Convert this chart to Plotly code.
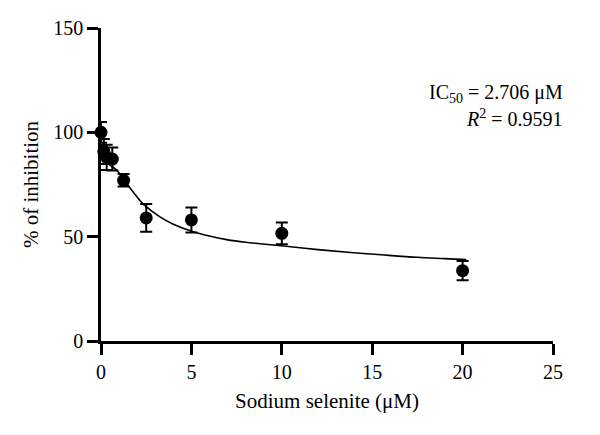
import plotly.graph_objects as go

conc = [0, 0.156, 0.3125, 0.625, 1.25, 2.5, 5, 10, 20]
inhibition = [100, 90.8, 88.0, 87.2, 77.0, 59.0, 58.0, 51.6, 33.7]
sem = [5.0, 6.0, 6.0, 5.5, 3.0, 6.6, 6.0, 5.2, 4.6]

# Fitted curve points
fit_x = [0.3, 0.5, 0.77, 1.0, 1.42, 2.0, 2.34, 3.26, 4.0, 5.1, 6.0, 6.95, 8.0, 8.8, 10.1, 12.0, 13.8, 15.5, 17.5, 19.0, 20.2]
fit_y = [85.5, 84.2, 82.6, 80.5, 75.5, 69.0, 65.6, 59.5, 56.0, 52.4, 50.3, 48.6, 47.3, 46.6, 45.5, 43.8, 42.4, 41.3, 40.1, 39.5, 39.0]

tick_x = [0, 5, 10, 15, 20, 25]
tick_y = [0, 50, 100, 150]

FONT = "Liberation Serif"

fig = go.Figure()
fig.add_trace(go.Scatter(
    x=fit_x, y=fit_y, mode="lines",
    line=dict(color="black", width=1.6, shape="spline"),
    showlegend=False, hoverinfo="skip", cliponaxis=False,
))
fig.add_trace(go.Scatter(
    x=conc, y=inhibition, mode="markers",
    marker=dict(color="black", size=13, symbol="circle"),
    error_y=dict(type="data", array=sem, visible=True, color="black", thickness=2, width=6),
    showlegend=False, cliponaxis=False,
))

fig.add_annotation(
    xref="paper", yref="paper", x=1.027, y=0.792, xanchor="right", yanchor="middle",
    text="IC<sub>50</sub> = 2.706 μM", showarrow=False,
    font=dict(family=FONT, size=20, color="black"),
)
fig.add_annotation(
    xref="paper", yref="paper", x=1.027, y=0.712, xanchor="right", yanchor="middle",
    text="<i>R</i><sup>2</sup> = 0.9591", showarrow=False,
    font=dict(family=FONT, size=20, color="black"),
)

axis_common = dict(
    showgrid=False, zeroline=False, showline=True, linecolor="black", linewidth=2.5,
    ticks="outside", ticklen=11, tickwidth=2.5, tickcolor="black",
    tickfont=dict(family=FONT, size=20, color="black"),
)
fig.update_xaxes(
    range=[0, 25], tickvals=tick_x, ticktext=[str(v) for v in tick_x],
    title=dict(text="Sodium selenite (μM)", font=dict(family=FONT, size=21, color="black"), standoff=12),
    **axis_common,
)
fig.update_yaxes(
    range=[0, 150], tickvals=tick_y, ticktext=[str(v) for v in tick_y],
    title=dict(text="% of inhibition", font=dict(family=FONT, size=21, color="black"), standoff=9),
    **axis_common,
)

fig.update_layout(
    width=600, height=435,
    margin=dict(l=101, r=47, t=28, b=94),
    paper_bgcolor="white", plot_bgcolor="white",
    font=dict(family=FONT, color="black"),
)

fig.write_html("out.html")
